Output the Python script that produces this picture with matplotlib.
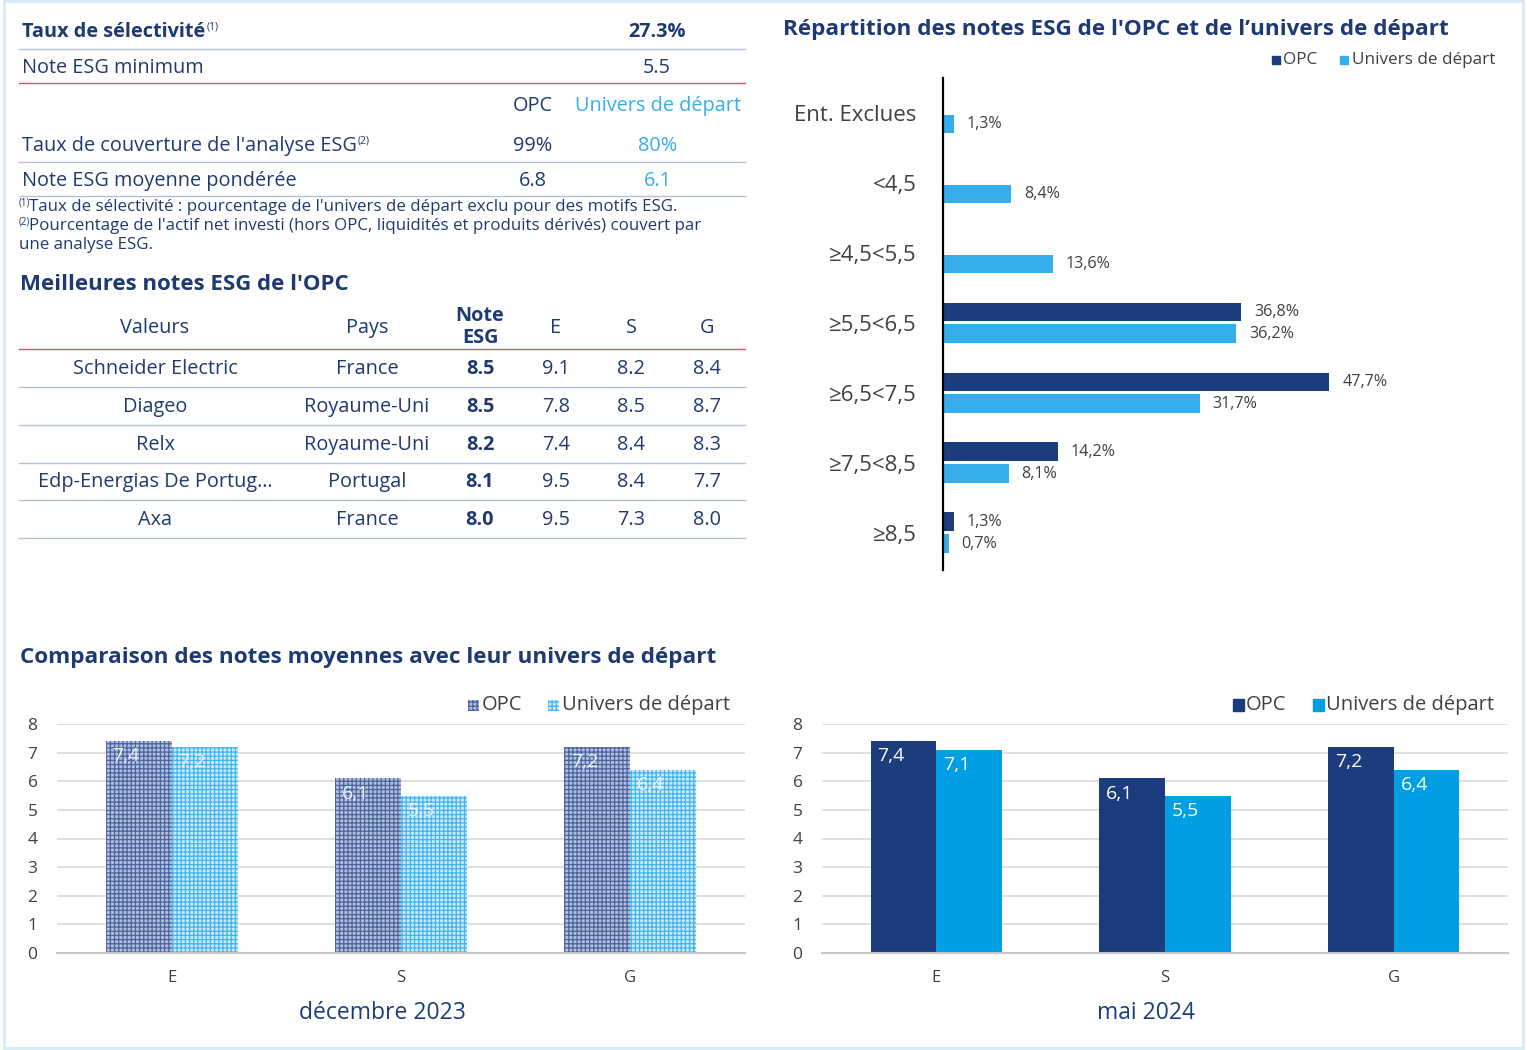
import matplotlib.pyplot as plt
import numpy as np
from matplotlib.patches import Rectangle

plt.rcParams['font.family'] = ['Open Sans', 'DejaVu Sans']
plt.rcParams['hatch.linewidth'] = 0.9

# couleurs
NAVY = '#1b3d7d'
TXT = '#1f3a73'
LIGHT = '#35aeeb'
CYAN = '#009fe3'
GRAY = '#404040'
RED = '#d9506e'
LINE = '#b4c0dd'

# --- données ---
selectivite = '27.3%'
note_min = '5.5'
couverture = ['99%', '80%']
note_moy = ['6.8', '6.1']

valeurs = ['Schneider Electric', 'Diageo', 'Relx', 'Edp-Energias De Portug…', 'Axa']
pays = ['France', 'Royaume-Uni', 'Royaume-Uni', 'Portugal', 'France']
note_esg = ['8.5', '8.5', '8.2', '8.1', '8.0']
note_e = ['9.1', '7.8', '7.4', '9.5', '9.5']
note_s = ['8.2', '8.5', '8.4', '8.4', '7.3']
note_g = ['8.4', '8.7', '8.3', '7.7', '8.0']

tranches = ['Ent. Exclues', '<4,5', '≥4,5<5,5', '≥5,5<6,5', '≥6,5<7,5', '≥7,5<8,5', '≥8,5']
repart_opc = [0, 0, 0, 36.8, 47.7, 14.2, 1.3]
repart_univ = [1.3, 8.4, 13.6, 36.2, 31.7, 8.1, 0.7]

piliers = ['E', 'S', 'G']
dec23_opc = [7.4, 6.1, 7.2]
dec23_univ = [7.2, 5.5, 6.4]
mai24_opc = [7.4, 6.1, 7.2]
mai24_univ = [7.1, 5.5, 6.4]

fig = plt.figure(figsize=(15.27, 10.5), dpi=100)
rend = fig.canvas.get_renderer()

# calque en pixels pour les tableaux et titres
bg = fig.add_axes([0, 0, 1, 1], zorder=0)
bg.set_xlim(0, 1527)
bg.set_ylim(1050, 0)
bg.axis('off')
bg.add_patch(Rectangle((4, 1), 1519, 1047, fill=False, edgecolor='#d3ecf7', lw=2))


def hline(y, x0=19, x1=745, color=LINE, lw=1):
    bg.plot([x0, x1], [y, y], color=color, lw=lw)


def txt(x, y, s, **kw):
    kw.setdefault('color', TXT)
    kw.setdefault('fontsize', 14.3)
    kw.setdefault('va', 'center')
    return bg.text(x, y, s, **kw)


def sup_after(t, y, s, color=TXT):
    # petit exposant collé à droite du texte t
    x = t.get_window_extent(rend).x1
    txt(x + 1, y - 5, s, fontsize=7.5, color=color)


# tableau du haut
t = txt(22, 32, 'Taux de sélectivité', fontweight='bold')
sup_after(t, 32, '(1)')
txt(657, 32, selectivite, fontweight='bold', ha='center')
hline(49)
txt(22, 68, 'Note ESG minimum')
txt(657, 68, note_min, ha='center')
hline(83, color=RED)
txt(533, 106, 'OPC', ha='center')
txt(658, 106, 'Univers de départ', ha='center', color=LIGHT)
t = txt(22, 146, "Taux de couverture de l'analyse ESG")
sup_after(t, 146, '(2)')
txt(533, 146, couverture[0], ha='center')
txt(658, 146, couverture[1], ha='center', color=LIGHT)
hline(162)
txt(22, 181, 'Note ESG moyenne pondérée')
txt(533, 181, note_moy[0], ha='center')
txt(658, 181, note_moy[1], ha='center', color=LIGHT)
hline(196)
txt(19, 203, '(1)', fontsize=7)
txt(29, 207, "Taux de sélectivité : pourcentage de l'univers de départ exclu pour des motifs ESG.", fontsize=12.2)
txt(19, 222, '(2)', fontsize=7)
txt(29, 226, "Pourcentage de l'actif net investi (hors OPC, liquidités et produits dérivés) couvert par", fontsize=12.2)
txt(19, 245, 'une analyse ESG.', fontsize=12.2)

# meilleures notes
txt(20, 285, "Meilleures notes ESG de l'OPC", fontweight='bold', fontsize=16)
cols = [155, 367, 480, 556, 631, 707]
txt(cols[0], 328, 'Valeurs', ha='center')
txt(cols[1], 328, 'Pays', ha='center')
txt(cols[2], 327, 'Note\nESG', ha='center', fontweight='bold', linespacing=1.15)
txt(cols[3], 328, 'E', ha='center')
txt(cols[4], 328, 'S', ha='center')
txt(cols[5], 328, 'G', ha='center')
hline(349, color=RED)
for i in range(len(valeurs)):
    y = 369 + 37.8 * i
    txt(cols[0], y, valeurs[i], ha='center')
    txt(cols[1], y, pays[i], ha='center')
    txt(cols[2], y, note_esg[i], ha='center', fontweight='bold')
    txt(cols[3], y, note_e[i], ha='center')
    txt(cols[4], y, note_s[i], ha='center')
    txt(cols[5], y, note_g[i], ha='center')
    hline(368 + 37.8 * i + 19)

# titres
txt(783, 29, "Répartition des notes ESG de l'OPC et de l’univers de départ", fontweight='bold', fontsize=16.2)
txt(20, 657, 'Comparaison des notes moyennes avec leur univers de départ', fontweight='bold', fontsize=16.2)

# légende du haut
bg.add_patch(Rectangle((1272, 56), 8, 8, color=NAVY))
txt(1283, 60, 'OPC', color=GRAY, fontsize=12.3)
bg.add_patch(Rectangle((1340, 56), 8, 8, color=LIGHT))
txt(1352, 60, 'Univers de départ', color=GRAY, fontsize=12.3)

# --- répartition (barres horizontales) ---
ax = fig.add_axes([943 / 1527, 1 - 570 / 1050, 557 / 1527, 492 / 1050])
y = np.arange(len(tranches))
off, h = 0.157, 0.27
ax.barh(y - off, repart_opc, height=h, color=NAVY)
ax.barh(y + off, repart_univ, height=h, color=LIGHT)
for i in range(len(tranches)):
    if repart_opc[i] > 0:
        ax.text(repart_opc[i] + 1.6, y[i] - off, f'{repart_opc[i]:.1f}%'.replace('.', ','),
                va='center', fontsize=11.6, color=GRAY)
    ax.text(repart_univ[i] + 1.6, y[i] + off, f'{repart_univ[i]:.1f}%'.replace('.', ','),
            va='center', fontsize=11.6, color=GRAY)
ax.set_ylim(6.53, -0.5)
ax.set_xlim(0, 68.8)
ax.set_yticks(y)
ax.set_yticklabels(tranches, fontsize=16, color=GRAY)
ax.tick_params(axis='y', length=0, pad=19)
ax.set_xticks([])
for s in ['top', 'right', 'bottom']:
    ax.spines[s].set_visible(False)
ax.spines['left'].set_linewidth(1.6)
ax.spines['left'].set_color('black')
ax.patch.set_alpha(0)


# --- comparaison E/S/G ---
def colonnes(rect, opc, univ, titre, xt, hachure):
    a = fig.add_axes(rect)
    x = np.arange(len(piliers))
    w = 0.2876
    if hachure:
        a.bar(x - w / 2, opc, w, facecolor='#b3bedc', edgecolor='#4a64a0', hatch='++++', lw=0)
        a.bar(x + w / 2, univ, w, facecolor='#c8eafb', edgecolor='#45b4ee', hatch='++++', lw=0)
        lab = '#eef2fa'
    else:
        a.bar(x - w / 2, opc, w, color=NAVY)
        a.bar(x + w / 2, univ, w, color=CYAN)
        lab = 'white'
    for i in range(len(piliers)):
        a.text(x[i] - w + 0.03, opc[i] - 0.22, f'{opc[i]:.1f}'.replace('.', ','),
               color=lab, fontsize=14, va='top', ha='left')
        a.text(x[i] + 0.03, univ[i] - 0.22, f'{univ[i]:.1f}'.replace('.', ','),
               color=lab, fontsize=14, va='top', ha='left')
    a.set_xlim(-0.5, 2.5)
    a.set_ylim(0, 8)
    a.set_yticks(range(9))
    a.set_xticks(x)
    a.set_xticklabels(piliers)
    a.tick_params(axis='both', length=0, labelsize=12, labelcolor=GRAY)
    a.tick_params(axis='y', pad=14, labelsize=12.5)
    a.tick_params(axis='x', pad=12)
    a.grid(axis='y', color='#d9d9d9', lw=1.2)
    a.set_axisbelow(True)
    for s in ['top', 'right', 'left']:
        a.spines[s].set_visible(False)
    a.spines['bottom'].set_color('#c8c8c8')
    a.spines['bottom'].set_linewidth(1.5)
    a.patch.set_alpha(0)
    txt(xt, 1013, titre, fontsize=16.5, color=NAVY, ha='center')
    return a


colonnes([57 / 1527, 1 - 953 / 1050, 688 / 1527, 229 / 1050], dec23_opc, dec23_univ, 'décembre 2023', 382, True)
colonnes([822 / 1527, 1 - 953 / 1050, 686 / 1527, 229 / 1050], mai24_opc, mai24_univ, 'mai 2024', 1146, False)

# légendes du bas
bg.add_patch(Rectangle((468, 700), 11, 11, facecolor='#b3bedc', edgecolor='#4a64a0', hatch='++++', lw=0))
txt(482, 705, 'OPC', color=GRAY, fontsize=14.5)
bg.add_patch(Rectangle((548, 700), 11, 11, facecolor='#c8eafb', edgecolor='#45b4ee', hatch='++++', lw=0))
txt(562, 705, 'Univers de départ', color=GRAY, fontsize=14.5)
bg.add_patch(Rectangle((1233, 699), 11, 12, color=NAVY))
txt(1246, 705, 'OPC', color=GRAY, fontsize=14.5)
bg.add_patch(Rectangle((1313, 699), 11, 12, color=CYAN))
txt(1326, 705, 'Univers de départ', color=GRAY, fontsize=14.5)

fig.savefig('out.png', dpi=100)
